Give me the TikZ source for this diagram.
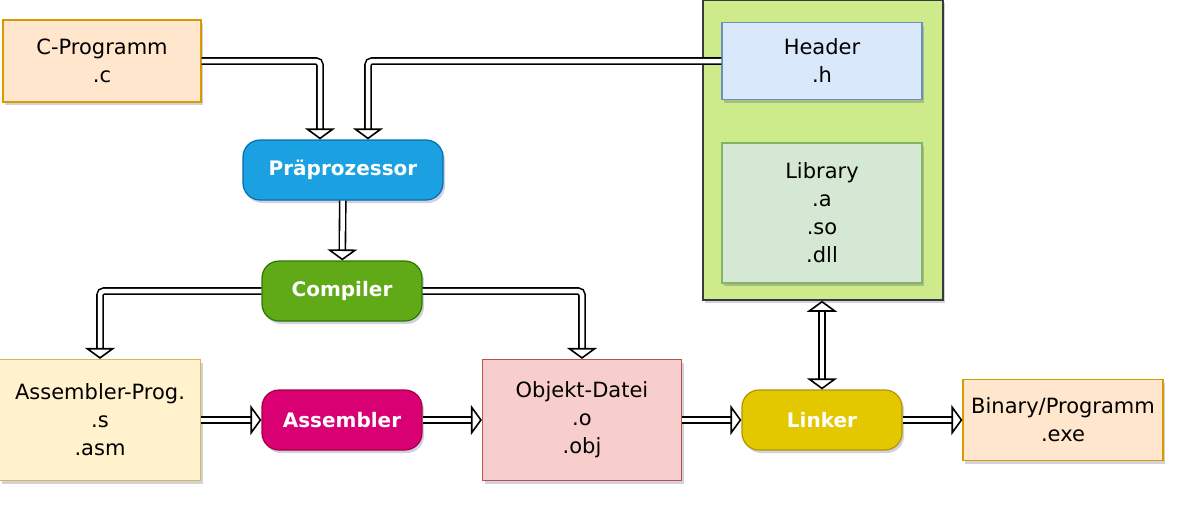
\documentclass[tikz,border=0pt]{standalone}
\usepackage{fontspec}
\setmainfont{DejaVu Sans}
\usetikzlibrary{arrows.meta,shadows}
\definecolor{srcfill}{HTML}{FFE6CC}\definecolor{srcline}{HTML}{D79B00}
\definecolor{asmfill}{HTML}{FFF2CC}\definecolor{asmline}{HTML}{D6B656}
\definecolor{objfill}{HTML}{F8CECC}\definecolor{objline}{HTML}{B85450}
\definecolor{hdrfill}{HTML}{DAE8FC}\definecolor{hdrline}{HTML}{6C8EBF}
\definecolor{libfill}{HTML}{D5E8D4}\definecolor{libline}{HTML}{82B366}
\definecolor{boxfill}{HTML}{CDEB8B}\definecolor{boxline}{HTML}{36393D}
\definecolor{ppfill}{HTML}{1BA1E2}\definecolor{ppline}{HTML}{006EAF}
\definecolor{ccfill}{HTML}{60A917}\definecolor{ccline}{HTML}{2D7600}
\definecolor{asfill}{HTML}{D80073}\definecolor{asline}{HTML}{A50040}
\definecolor{lkfill}{HTML}{E3C800}\definecolor{lkline}{HTML}{B09500}
\tikzset{
  shade/.style={drop shadow={opacity=0.18,shadow xshift=2pt,shadow yshift=-3pt,fill=black!70!blue}},
  file/.style={draw, line width=1.2pt, align=center, minimum width=200pt, shade,
    font=\fontsize{21}{28}\selectfont},
  tool/.style={draw, line width=1.2pt, rounded corners=17pt, minimum width=160pt, minimum height=60pt,
    text=white, shade, font=\fontsize{20}{28}\selectfont\bfseries},
  tip/.tip={Triangle[open,fill=white,length=11pt,width=30pt,line width=1.6pt]},
  flow/.style={double=white, double distance=4.5pt, line width=1.6pt, -tip},
  elbow/.style={flow, rounded corners=4pt, to path={-| (\tikztotarget)}}
}
\begin{document}
\begin{tikzpicture}[x=1pt,y=-1pt]
  \useasboundingbox (0,0) rectangle (1188,506);
  % container for header and library
  \node[draw=boxline, fill=boxfill, line width=1.5pt, minimum width=240pt, minimum height=300pt, shade] (box) at (823,150) {};
  \node[file, draw=hdrline, fill=hdrfill, minimum height=77pt] (hdr) at (822,61) {Header\\.h};
  \node[file, draw=libline, fill=libfill, minimum height=140pt] (lib) at (822,213) {Library\\.a\\.so\\.dll};

  \node[file, draw=srcline, fill=srcfill, minimum width=198pt, minimum height=82pt] (cprog) at (102,61) {C-Programm\\.c};
  \node[tool, draw=ppline, fill=ppfill, minimum width=200pt] (pre) at (343,170) {Präprozessor};
  \node[tool, draw=ccline, fill=ccfill] (comp) at (342,291) {Compiler};
  \node[file, draw=asmline, fill=asmfill, minimum width=201pt, minimum height=121pt] (asmsrc) at (100,420) {Assembler-Prog.\\.s\\.asm};
  \node[tool, draw=asline, fill=asfill] (asm) at (342,420) {Assembler};
  \node[file, draw=objline, fill=objfill, minimum width=199pt, minimum height=121pt] (obj) at (582,420) {Objekt-Datei\\.o\\.obj};
  \node[tool, draw=lkline, fill=lkfill] (link) at (822,420) {Linker};
  \node[file, draw=srcline, fill=srcfill, minimum width=200pt, minimum height=81pt] (bin) at (1063,420) {Binary/Programm\\.exe};

  \path
  (cprog.east) edge[elbow] ([xshift=-23pt]pre.north)
  (hdr.west) edge[elbow] ([xshift=25pt]pre.north)
  (pre) edge[flow] (comp)
  (comp.west) edge[elbow] (asmsrc.north)
  (comp.east) edge[elbow] (obj.north)
  (asmsrc) edge[flow] (asm)
  (asm) edge[flow] (obj)
  (obj) edge[flow] (link)
  (link) edge[flow] (bin)
  (link) edge[flow, tip-tip] (link |- box.south)
  ;
\end{tikzpicture}
\end{document}
